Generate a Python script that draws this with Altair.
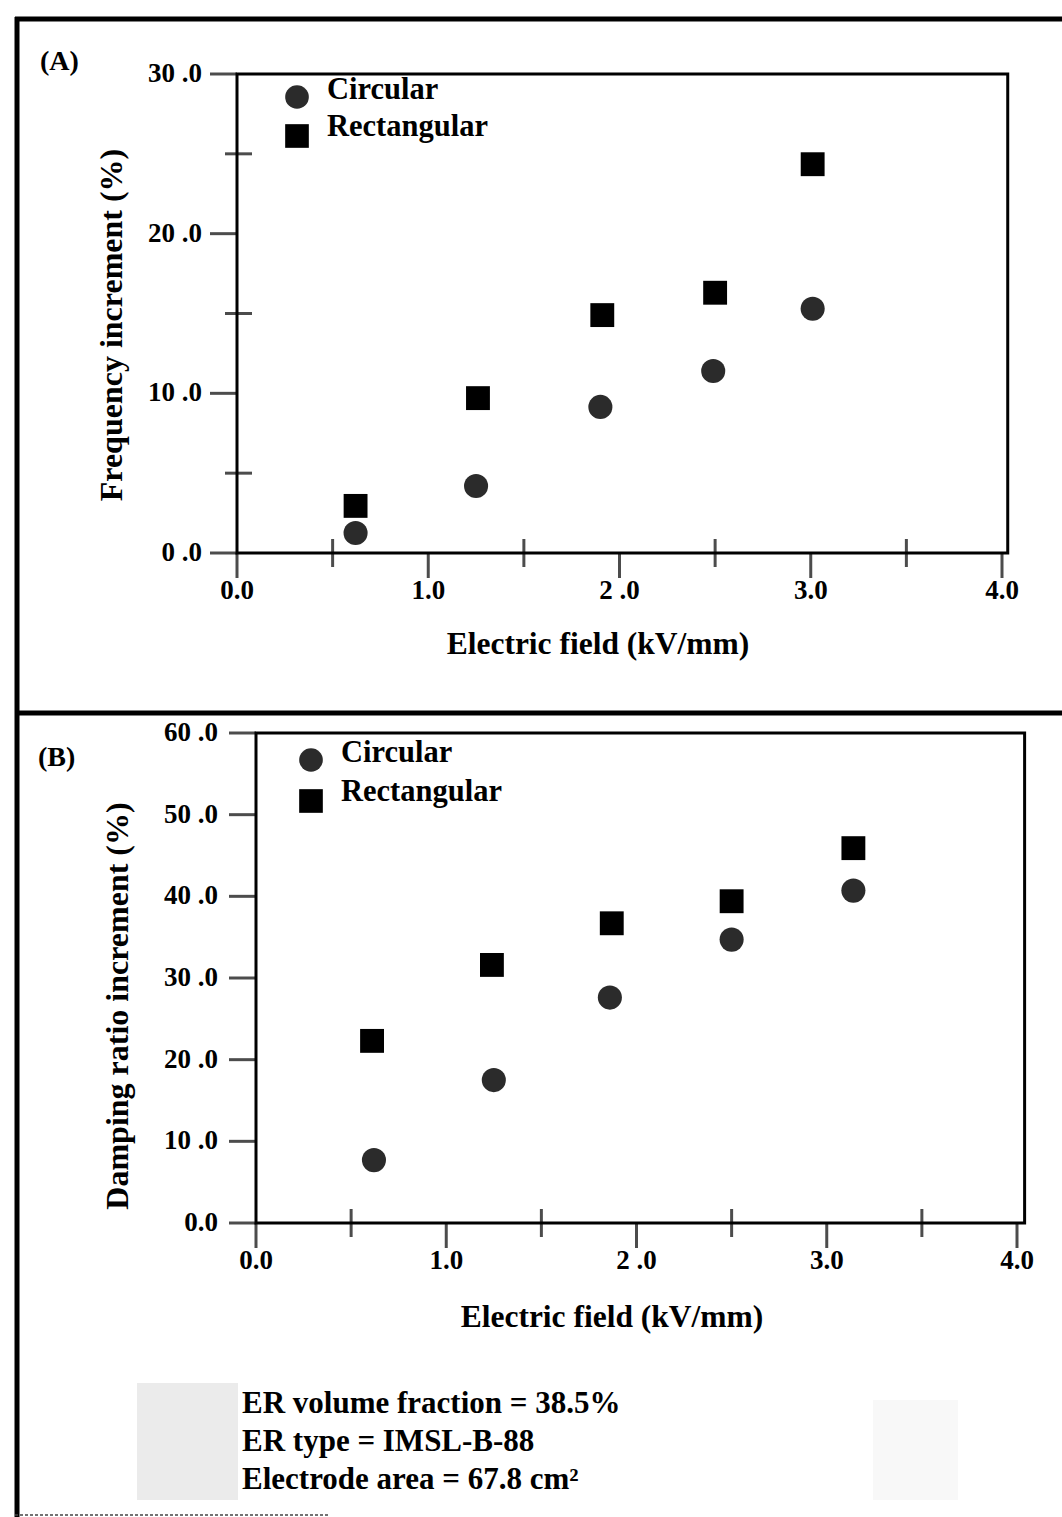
import altair as alt
import pandas as pd

# ---------------- data ----------------
# Panel (A): frequency increment
field_a_circ = [0.62, 1.25, 1.90, 2.49, 3.01]
freq_circ = [1.25, 4.2, 9.15, 11.4, 15.3]
field_a_rect = [0.62, 1.26, 1.91, 2.50, 3.01]
freq_rect = [2.95, 9.7, 14.9, 16.3, 24.35]

# Panel (B): damping ratio increment
field_b_circ = [0.62, 1.25, 1.86, 2.50, 3.14]
damp_circ = [7.7, 17.5, 27.6, 34.7, 40.7]
field_b_rect = [0.61, 1.24, 1.87, 2.50, 3.14]
damp_rect = [22.3, 31.6, 36.7, 39.4, 45.9]

x_major = [0.0, 1.0, 2.0, 3.0, 4.0]
x_minor = [0.5, 1.5, 2.5, 3.5]
x_labels = ["0.0", "1.0", "2 .0", "3.0", "4.0"]

ya_major = [0, 10, 20, 30]
ya_minor = [5, 15, 25]
ya_labels = ["0 .0", "10 .0", "20 .0", "30 .0"]

yb_major = [0, 10, 20, 30, 40, 50, 60]
yb_labels = ["0.0", "10 .0", "20 .0", "30 .0", "40 .0", "50 .0", "60 .0"]

series_names = ["Circular", "Rectangular"]
x_title = "Electric field (kV/mm)"
ya_title = "Frequency increment (%)"
yb_title = "Damping ratio increment (%)"
notes = ["ER volume fraction = 38.5%", "ER type = IMSL-B-88", "Electrode area = 67.8 cm²"]

FONT = "Liberation Serif"
INK = "#000000"
CIRC = "#2b2b2b"


def panel(xrng, yrng, ydom, ymaj, ymin, ylabels, box_right, title_pos, ytitle, ytitle_pos,
          letter, letter_pos, leg_pos, xc, yc, xr, yr, ylab_dx):
    xs = alt.Scale(domain=[0, 4], range=xrng, zero=False, nice=False)
    ys = alt.Scale(domain=ydom, range=yrng, zero=False, nice=False)

    def X(field):
        return alt.X(f"{field}:Q", scale=xs, axis=None)

    def Y(field):
        return alt.Y(f"{field}:Q", scale=ys, axis=None)

    layers = []
    # plot box
    box = pd.DataFrame({"x": [0.0], "x2": [box_right], "y": [ydom[0]], "y2": [ydom[1]]})
    layers.append(
        alt.Chart(box).mark_rect(filled=False, stroke=INK, strokeWidth=3).encode(
            x=X("x"), x2="x2:Q", y=Y("y"), y2="y2:Q")
    )
    # y major ticks (outside, left)
    d = pd.DataFrame({"v": ymaj, "z": [0.0] * len(ymaj)})
    layers.append(
        alt.Chart(d).mark_tick(orient="horizontal", size=27, thickness=3, color=INK, xOffset=-13.5)
        .encode(x=X("z"), y=Y("v"))
    )
    if ymin:
        d = pd.DataFrame({"v": ymin, "z": [0.0] * len(ymin)})
        layers.append(
            alt.Chart(d).mark_tick(orient="horizontal", size=27, thickness=3, color=INK, xOffset=1.5)
            .encode(x=X("z"), y=Y("v"))
        )
    # x major ticks (outside, down)
    d = pd.DataFrame({"v": x_major, "z": [ydom[0]] * len(x_major)})
    layers.append(
        alt.Chart(d).mark_tick(orient="vertical", size=25, thickness=3, color=INK, yOffset=12.5)
        .encode(x=X("v"), y=Y("z"))
    )
    d = pd.DataFrame({"v": x_minor, "z": [ydom[0]] * len(x_minor)})
    layers.append(
        alt.Chart(d).mark_tick(orient="vertical", size=28, thickness=3, color=INK, yOffset=0)
        .encode(x=X("v"), y=Y("z"))
    )
    # tick labels
    d = pd.DataFrame({"v": ymaj, "z": [0.0] * len(ymaj), "t": ylabels})
    layers.append(
        alt.Chart(d).mark_text(align="right", baseline="middle", dx=ylab_dx, font=FONT,
                               fontWeight="bold", fontSize=27, color=INK)
        .encode(x=X("z"), y=Y("v"), text="t:N")
    )
    d = pd.DataFrame({"v": x_major, "z": [ydom[0]] * len(x_major), "t": x_labels})
    layers.append(
        alt.Chart(d).mark_text(align="center", baseline="middle", dy=38, font=FONT,
                               fontWeight="bold", fontSize=27, color=INK)
        .encode(x=X("v"), y=Y("z"), text="t:N")
    )
    # data points
    d = pd.DataFrame({"x": xc, "y": yc})
    layers.append(
        alt.Chart(d).mark_point(shape="circle", filled=True, size=580, color=CIRC, opacity=1)
        .encode(x=X("x"), y=Y("y"))
    )
    d = pd.DataFrame({"x": xr, "y": yr})
    layers.append(
        alt.Chart(d).mark_point(shape="square", filled=True, size=570, color=INK, opacity=1)
        .encode(x=X("x"), y=Y("y"))
    )
    # titles
    layers.append(
        alt.Chart(pd.DataFrame({"t": [x_title]})).mark_text(
            align="center", baseline="middle", font=FONT, fontWeight="bold", fontSize=31.5, color=INK)
        .encode(x=alt.value(title_pos[0]), y=alt.value(title_pos[1]), text="t:N")
    )
    layers.append(
        alt.Chart(pd.DataFrame({"t": [ytitle]})).mark_text(
            align="center", baseline="middle", angle=270, font=FONT, fontWeight="bold",
            fontSize=32, color=INK)
        .encode(x=alt.value(ytitle_pos[0]), y=alt.value(ytitle_pos[1]), text="t:N")
    )
    layers.append(
        alt.Chart(pd.DataFrame({"t": [letter]})).mark_text(
            align="left", baseline="middle", font=FONT, fontWeight="bold", fontSize=28, color=INK)
        .encode(x=alt.value(letter_pos[0]), y=alt.value(letter_pos[1]), text="t:N")
    )
    # legend
    lx, ly1, ly2 = leg_pos
    layers.append(
        alt.Chart(pd.DataFrame({"a": [0]})).mark_point(shape="circle", filled=True, size=560,
                                                      color=CIRC, opacity=1)
        .encode(x=alt.value(lx), y=alt.value(ly1 + 7))
    )
    layers.append(
        alt.Chart(pd.DataFrame({"a": [0]})).mark_point(shape="square", filled=True, size=560,
                                                      color=INK, opacity=1)
        .encode(x=alt.value(lx), y=alt.value(ly2 + 9))
    )
    for name, yy in zip(series_names, [ly1, ly2]):
        layers.append(
            alt.Chart(pd.DataFrame({"t": [name]})).mark_text(
                align="left", baseline="middle", font=FONT, fontWeight="bold", fontSize=30.5, color=INK)
            .encode(x=alt.value(lx + 30), y=alt.value(yy), text="t:N")
        )
    return layers


layers_a = panel(
    xrng=[237, 1002], yrng=[553, 74], ydom=[0, 30], ymaj=ya_major, ymin=ya_minor,
    ylabels=ya_labels, box_right=4.03, title_pos=(598, 645), ytitle=ya_title,
    ytitle_pos=(112, 325), letter="(A)", letter_pos=(40, 62), leg_pos=(297, 90, 127),
    xc=field_a_circ, yc=freq_circ, xr=field_a_rect, yr=freq_rect, ylab_dx=-35)

layers_b = panel(
    xrng=[256, 1017], yrng=[1223, 733], ydom=[0, 60], ymaj=yb_major, ymin=[],
    ylabels=yb_labels, box_right=4.04, title_pos=(612, 1318), ytitle=yb_title,
    ytitle_pos=(118, 1006), letter="(B)", letter_pos=(38, 758), leg_pos=(311, 753, 792),
    xc=field_b_circ, yc=damp_circ, xr=field_b_rect, yr=damp_rect, ylab_dx=-38)

# frame and notes
deco = []
deco.append(alt.Chart(pd.DataFrame({"a": [0]})).mark_rule(color=INK, strokeWidth=5)
            .encode(x=alt.value(17), y=alt.value(17), y2=alt.value(1517)))
deco.append(alt.Chart(pd.DataFrame({"a": [0]})).mark_rule(color=INK, strokeWidth=5)
            .encode(x=alt.value(15), x2=alt.value(1062), y=alt.value(19)))
deco.append(alt.Chart(pd.DataFrame({"a": [0]})).mark_rule(color=INK, strokeWidth=5)
            .encode(x=alt.value(15), x2=alt.value(1062), y=alt.value(713)))
deco.append(alt.Chart(pd.DataFrame({"a": [0]})).mark_rule(color="#444444", strokeWidth=1.5,
                                                         strokeDash=[3, 2])
            .encode(x=alt.value(15), x2=alt.value(330), y=alt.value(1515)))
deco.append(alt.Chart(pd.DataFrame({"a": [0]})).mark_rect(color="#ebebeb")
            .encode(x=alt.value(137), x2=alt.value(238), y=alt.value(1383), y2=alt.value(1500)))
deco.append(alt.Chart(pd.DataFrame({"a": [0]})).mark_rect(color="#f8f8f8")
            .encode(x=alt.value(873), x2=alt.value(958), y=alt.value(1400), y2=alt.value(1500)))
for txt, yy in zip(notes, [1404, 1442, 1480]):
    deco.append(alt.Chart(pd.DataFrame({"t": [txt]})).mark_text(
        align="left", baseline="middle", font=FONT, fontWeight="bold", fontSize=31, color=INK)
        .encode(x=alt.value(242), y=alt.value(yy), text="t:N"))

chart = alt.layer(*(deco + layers_a + layers_b)).resolve_scale(
    x="independent", y="independent"
).properties(
    width=1062, height=1517, autosize=alt.AutoSizeParams(type="none"), padding=0,
    background="white"
).configure_view(stroke=None)

chart.save("out.html", embed_options={"renderer": "svg", "actions": False})
